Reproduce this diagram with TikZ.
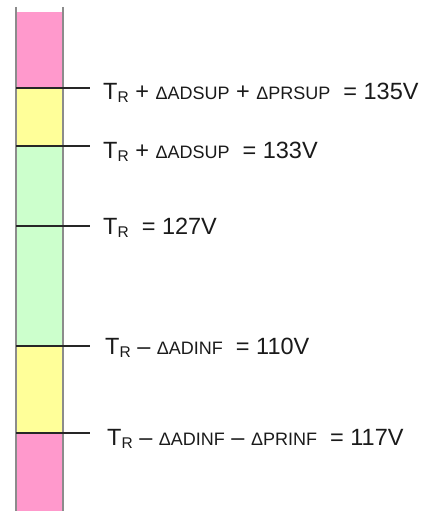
\documentclass[tikz,border=0pt]{standalone}
\usepackage{fontspec}
\setmainfont{Liberation Sans}
\definecolor{pinkz}{HTML}{FF99CC}
\definecolor{yellowz}{HTML}{FFFF99}
\definecolor{greenz}{HTML}{CCFFCC}
\definecolor{txt}{HTML}{1A1A1A}
\newcommand\myTR{T\raisebox{-3.5pt}{\fontsize{15.5}{15.5}\selectfont R}}
\newcommand\myDl[1]{{\fontsize{18}{18}\selectfont Δ#1}}
\begin{document}
\begin{tikzpicture}[x=1pt,y=-1pt,
  lbl/.style={anchor=base west,inner sep=0pt,text=txt,font=\fontsize{23.5}{23.5}\selectfont},
  tick/.style={draw=black!85,line width=1.5pt},
  side/.style={draw=black!45,line width=2pt}]
\useasboundingbox (0,0) rectangle (423,511);
% bands
\fill[pinkz] (16,12) rectangle (63,88);
\fill[yellowz] (16,88) rectangle (63,146);
\fill[greenz] (16,146) rectangle (63,346);
\fill[yellowz] (16,346) rectangle (63,433);
\fill[pinkz] (16,433) rectangle (63,511);
% side lines
\draw[side] (16,7) -- (16,511);
\draw[side] (63,7) -- (63,511);
% tick coordinates
\coordinate (a1) at (16,88);  \coordinate (b1) at (90,88);
\coordinate (a2) at (16,146); \coordinate (b2) at (90,146);
\coordinate (a3) at (16,226); \coordinate (b3) at (90,226);
\coordinate (a4) at (16,346); \coordinate (b4) at (90,346);
\coordinate (a5) at (16,433); \coordinate (b5) at (90,433);
\draw[tick] (a1) -- (b1);
\draw[tick] (a2) -- (b2);
\draw[tick] (a3) -- (b3);
\draw[tick] (a4) -- (b4);
\draw[tick] (a5) -- (b5);
% labels
\node[lbl] (t1) at (103,99) {\myTR{} + \myDl{ADSUP} + \myDl{PRSUP}\ \ = 135V};
\node[lbl] (t2) at (103,158) {\myTR{} + \myDl{ADSUP}\ \ = 133V};
\node[lbl] (t3) at (103,234) {\myTR\ \ = 127V};
\node[lbl] (t4) at (105,354) {\myTR{} – \myDl{ADINF}\ \ = 110V};
\node[lbl] (t5) at (107,445) {\myTR{} – \myDl{ADINF} – \myDl{PRINF}\ \ = 117V};
\end{tikzpicture}
\end{document}
